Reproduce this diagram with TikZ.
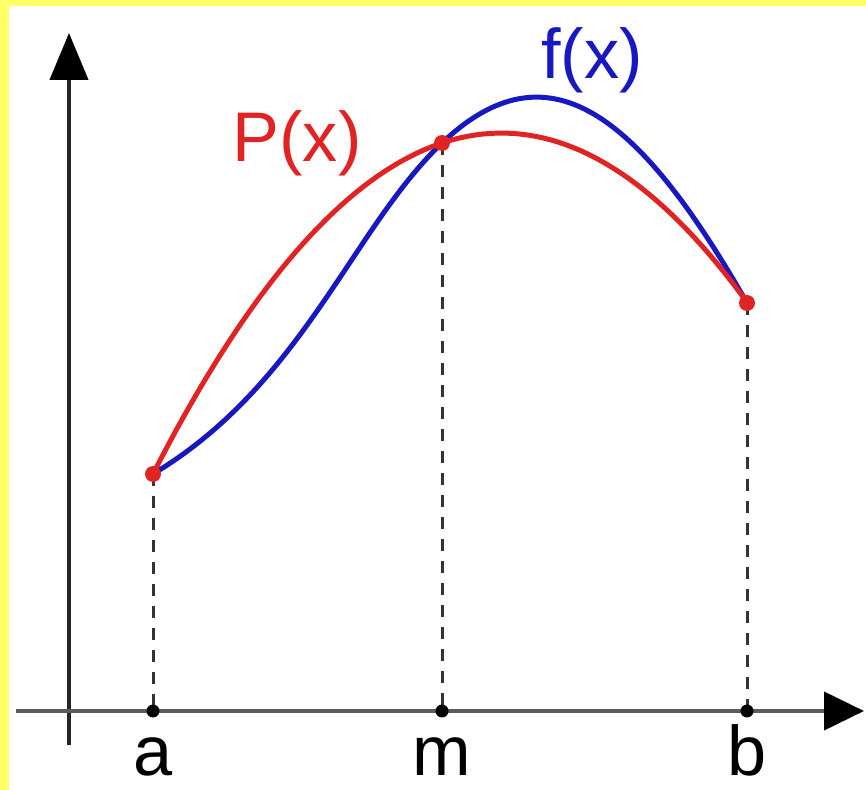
\documentclass[tikz,border=0pt]{standalone}
\usepackage{fontspec}
\setmainfont{Liberation Sans}
\usetikzlibrary{arrows.meta}
\definecolor{frame}{HTML}{FFFF66}
\definecolor{poly}{HTML}{E02424}
\definecolor{func}{HTML}{1818C0}
\definecolor{axisgray}{HTML}{5C5C5C}

\begin{document}
\begin{tikzpicture}[x=0.02cm,y=-0.02cm,
  ax/.style={line width=0.085cm},
  guide/.style={line width=0.06cm,black!80,dash pattern=on 0.24cm off 0.2cm},
  curve/.style={line width=0.1cm},
  pt/.style={circle,fill=poly,inner sep=0pt,minimum size=0.32cm},
  tk/.style={circle,fill=black,inner sep=0pt,minimum size=0.26cm},
  lbl/.style={font=\fontsize{40}{46}\selectfont,anchor=base,inner sep=0pt}]
  % frame
  \fill[frame] (0,0) rectangle (866,790);
  \fill[white] (9,6) rectangle (866,790);
  \useasboundingbox (0,0) rectangle (866,790);
  % axes
  \coordinate (yb) at (69,745);
  \coordinate (yt) at (69,33);
  \coordinate (xl) at (16,711);
  \coordinate (xr) at (864,711);
  \draw[ax,black!85,-{Triangle[length=0.94cm,width=0.76cm,black]}] (yb) -- (yt);
  \draw[ax,axisgray,-{Triangle[length=0.8cm,width=0.76cm,black]}] (xl) -- (xr);
  % sample points
  \coordinate (a) at (153,474);
  \coordinate (m) at (442,143);
  \coordinate (b) at (747,303);
  \coordinate (ta) at (153,711);
  \coordinate (tm) at (442,711);
  \coordinate (tb) at (747,711);
  \draw[guide] (a) -- (ta);
  \draw[guide] (m) -- (tm);
  \draw[guide] (b) -- (tb);
  % f(x)
  \draw[curve,func] (a) .. controls (303,384) and (352,228.5) .. (m)
    .. controls (547,43.25) and (637,110.5) .. (b);
  % P(x)
  \draw[curve,poly] plot[domain=153:747,samples=80] (\x,{474-1.14533*(\x-153)+0.0028113*(\x-153)*(\x-442)});
  \node[pt] (pa) at (a) {};
  \node[pt] (pm) at (m) {};
  \node[pt] (pb) at (b) {};
  \node[tk] (ka) at (ta) {};
  \node[tk] (km) at (tm) {};
  \node[tk] (kb) at (tb) {};
  % labels
  \node[lbl] (la) at (153,775) {a};
  \node[lbl] (lm) at (442,775) {m};
  \node[lbl] (lb) at (747,775) {b};
  \node[lbl,poly] (lp) at (297,162) {P(x)};
  \node[lbl,func] (lf) at (592,79) {f(x)};
\end{tikzpicture}
\end{document}
